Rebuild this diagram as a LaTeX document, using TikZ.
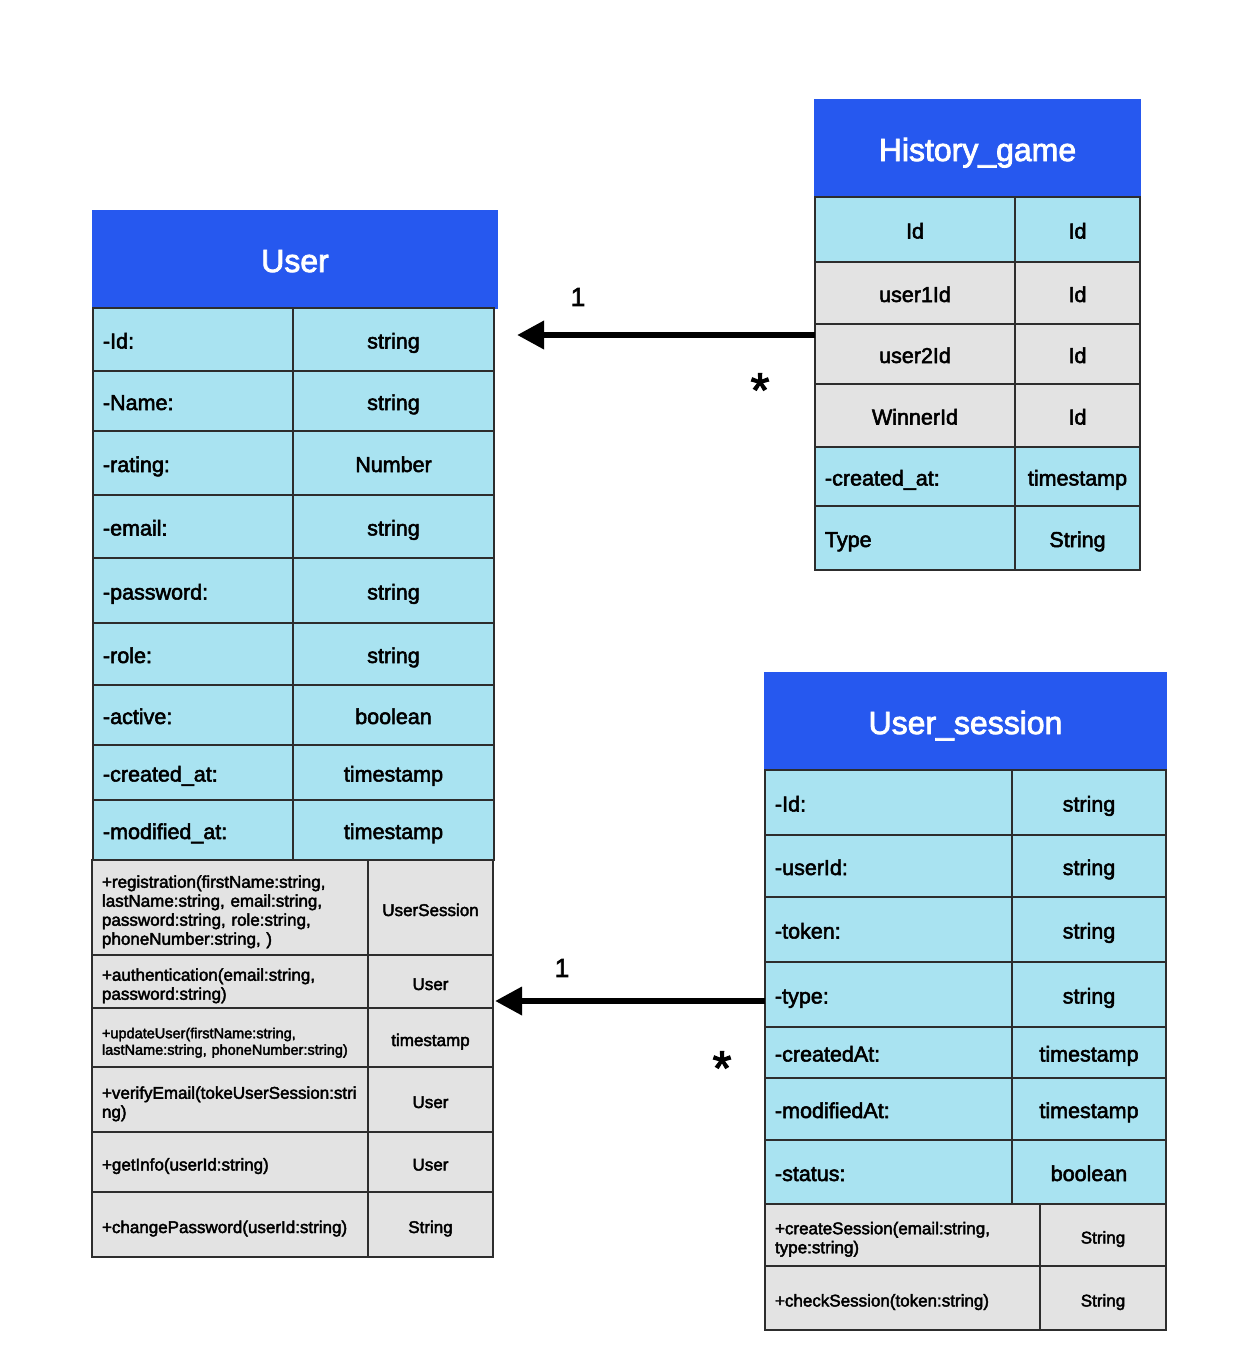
\documentclass[tikz,border=0pt]{standalone}
\usepackage{fontspec}
\setmainfont{Liberation Sans}[BoldFont={Liberation Sans},BoldFeatures={FakeBold=2.5}]
\usetikzlibrary{arrows.meta}
\definecolor{hdrblue}{RGB}{38,88,239}
\definecolor{cellblue}{RGB}{169,227,241}
\definecolor{cellgray}{RGB}{227,227,227}
\definecolor{edge}{RGB}{45,45,45}
\newcommand\cel[7]{%
  \pgfmathsetmacro\cellW{#4-#2}\pgfmathsetmacro\cellH{#5-#3}%
  \pgfmathsetmacro\cellT{#4-#2-20}%
  \pgfmathsetmacro\cellX{(#2+#4)/2}\pgfmathsetmacro\cellY{(#3+#5)/2}%
  \node[cell,#6,minimum width=\cellW pt,minimum height=\cellH pt,text width=\cellT pt] (#1) at (\cellX,\cellY) {#7};}
\tikzset{
  cell/.style={draw=edge,line width=1.4pt,inner xsep=10pt,inner ysep=0pt,outer sep=0pt,anchor=center,align=left,
    font=\fontsize{21.5}{25}\selectfont\bfseries,text height=22pt},
  one/.style={text depth=4pt},
  blu/.style={fill=cellblue,one},
  gry/.style={fill=cellgray,one},
  ctr/.style={align=center},
  hdr/.style={fill=hdrblue,draw=hdrblue,text=white,align=center,font=\fontsize{32}{36}\selectfont\bfseries,
    text height=26pt,text depth=1pt},
  meth/.style={fill=cellgray,font=\fontsize{17}{19}\selectfont\bfseries,text height=21pt},
  smeth/.style={fill=cellgray,font=\fontsize{14.5}{16.5}\selectfont\bfseries,text height=21pt},
  assoc/.style={line width=6.5pt,-{Triangle[length=27pt,width=27pt]}},
  mult/.style={font=\fontsize{26}{30}\selectfont\bfseries,inner sep=0pt},
  star/.style={font=\fontsize{48}{52}\selectfont\bfseries,inner sep=0pt}
}
\begin{document}
\begin{tikzpicture}[x=1pt,y=-1pt]
\useasboundingbox[fill=white] (0,0) rectangle (1236,1358);
% ---------------- User ----------------
\cel{uH}{93}{211}{497}{308}{hdr}{User}
\cel{uIdL}{93}{308}{293}{371}{blu}{-Id:}
\cel{uIdR}{293}{308}{494}{371}{blu,ctr}{string}
\cel{uNaL}{93}{371}{293}{431}{blu}{-Name:}
\cel{uNaR}{293}{371}{494}{431}{blu,ctr}{string}
\cel{uRaL}{93}{431}{293}{495}{blu}{-rating:}
\cel{uRaR}{293}{431}{494}{495}{blu,ctr}{Number}
\cel{uEmL}{93}{495}{293}{558}{blu}{-email:}
\cel{uEmR}{293}{495}{494}{558}{blu,ctr}{string}
\cel{uPwL}{93}{558}{293}{623}{blu}{-password:}
\cel{uPwR}{293}{558}{494}{623}{blu,ctr}{string}
\cel{uRoL}{93}{623}{293}{685}{blu}{-role:}
\cel{uRoR}{293}{623}{494}{685}{blu,ctr}{string}
\cel{uAcL}{93}{685}{293}{745}{blu}{-active:}
\cel{uAcR}{293}{685}{494}{745}{blu,ctr}{boolean}
\cel{uCrL}{93}{745}{293}{800}{blu}{-created\_at:}
\cel{uCrR}{293}{745}{494}{800}{blu,ctr}{timestamp}
\cel{uMoL}{93}{800}{293}{860}{blu}{-modified\_at:}
\cel{uMoR}{293}{800}{494}{860}{blu,ctr}{timestamp}
\cel{mRegL}{92}{860}{368}{955}{meth}{+registration(firstName:string,\\lastName:string, email:string,\\password:string, role:string,\\phoneNumber:string, )}
\cel{mRegR}{368}{860}{493}{955}{meth,one,ctr}{UserSession}
\cel{mAutL}{92}{955}{368}{1008}{meth}{+authentication(email:string,\\password:string)}
\cel{mAutR}{368}{955}{493}{1008}{meth,one,ctr}{User}
\cel{mUpdL}{92}{1008}{368}{1067}{smeth}{+updateUser(firstName:string,\\lastName:string, phoneNumber:string)}
\cel{mUpdR}{368}{1008}{493}{1067}{meth,one,ctr}{timestamp}
\cel{mVerL}{92}{1067}{368}{1132}{meth}{+verifyEmail(tokeUserSession:stri\\ng)}
\cel{mVerR}{368}{1067}{493}{1132}{meth,one,ctr}{User}
\cel{mGetL}{92}{1132}{368}{1192}{meth,one}{+getInfo(userId:string)}
\cel{mGetR}{368}{1132}{493}{1192}{meth,one,ctr}{User}
\cel{mChgL}{92}{1192}{368}{1257}{meth,one}{+changePassword(userId:string)}
\cel{mChgR}{368}{1192}{493}{1257}{meth,one,ctr}{String}
% ---------------- History_game ----------------
\cel{hH}{815}{100}{1140}{197}{hdr}{History\_game}
\cel{hIdL}{815}{197}{1015}{262}{blu,ctr}{Id}
\cel{hIdR}{1015}{197}{1140}{262}{blu,ctr}{Id}
\cel{hU1L}{815}{262}{1015}{324}{gry,ctr}{user1Id}
\cel{hU1R}{1015}{262}{1140}{324}{gry,ctr}{Id}
\cel{hU2L}{815}{324}{1015}{384}{gry,ctr}{user2Id}
\cel{hU2R}{1015}{324}{1140}{384}{gry,ctr}{Id}
\cel{hWiL}{815}{384}{1015}{447}{gry,ctr}{WinnerId}
\cel{hWiR}{1015}{384}{1140}{447}{gry,ctr}{Id}
\cel{hCrL}{815}{447}{1015}{506}{blu}{-created\_at:}
\cel{hCrR}{1015}{447}{1140}{506}{blu,ctr}{timestamp}
\cel{hTyL}{815}{506}{1015}{570}{blu}{Type}
\cel{hTyR}{1015}{506}{1140}{570}{blu,ctr}{String}
% ---------------- User_session ----------------
\cel{sH}{765}{673}{1166}{770}{hdr}{User\_session}
\cel{sIdL}{765}{770}{1012}{835}{blu}{-Id:}
\cel{sIdR}{1012}{770}{1166}{835}{blu,ctr}{string}
\cel{sUiL}{765}{835}{1012}{897}{blu}{-userId:}
\cel{sUiR}{1012}{835}{1166}{897}{blu,ctr}{string}
\cel{sToL}{765}{897}{1012}{962}{blu}{-token:}
\cel{sToR}{1012}{897}{1166}{962}{blu,ctr}{string}
\cel{sTyL}{765}{962}{1012}{1027}{blu}{-type:}
\cel{sTyR}{1012}{962}{1166}{1027}{blu,ctr}{string}
\cel{sCaL}{765}{1027}{1012}{1078}{blu}{-createdAt:}
\cel{sCaR}{1012}{1027}{1166}{1078}{blu,ctr}{timestamp}
\cel{sMaL}{765}{1078}{1012}{1140}{blu}{-modifiedAt:}
\cel{sMaR}{1012}{1078}{1166}{1140}{blu,ctr}{timestamp}
\cel{sStL}{765}{1140}{1012}{1204}{blu}{-status:}
\cel{sStR}{1012}{1140}{1166}{1204}{blu,ctr}{boolean}
\cel{sCrL}{765}{1204}{1040}{1266}{meth}{+createSession(email:string,\\type:string)}
\cel{sCrR}{1040}{1204}{1166}{1266}{meth,one,ctr}{String}
\cel{sChL}{765}{1266}{1040}{1330}{meth,one}{+checkSession(token:string)}
\cel{sChR}{1040}{1266}{1166}{1330}{meth,one,ctr}{String}
% ---------------- associations ----------------
\coordinate (a1) at ([yshift=19pt]hU2L.west);
\draw[assoc] (a1) -- ([xshift=23pt]uIdR.east |- a1);
\coordinate (a2) at ([yshift=-6.5pt]sTyL.west);
\draw[assoc] (a2) -- ([xshift=2pt]mAutR.east |- a2);
\node[mult] (m1) at (578,297) {1};
\node[star] (s1) at (760,390) {*};
\node[mult] (m2) at (562,968) {1};
\node[star] (s2) at (722,1068) {*};
\end{tikzpicture}
\end{document}
